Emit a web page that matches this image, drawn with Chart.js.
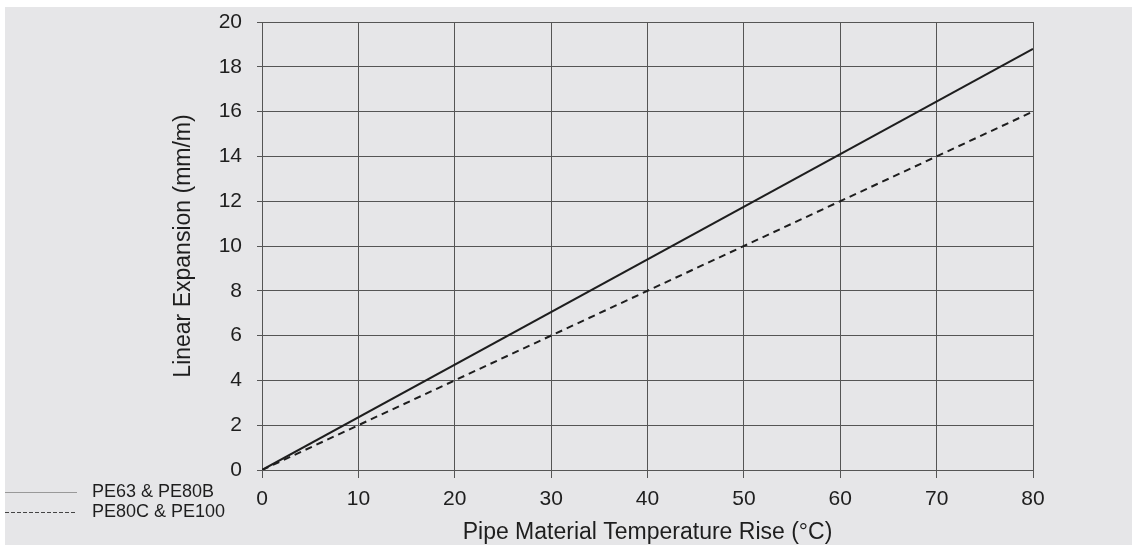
<!DOCTYPE html>
<html>
<head>
<meta charset="utf-8">
<script src="https://cdn.jsdelivr.net/npm/chart.js@4/dist/chart.umd.min.js"></script>
<style>
  html, body { margin: 0; padding: 0; background: #ffffff; }
  #wrap { width: 1132px; height: 547px; position: relative; }
</style>
</head>
<body>
<div id="wrap"><canvas id="chart"></canvas></div>
<script>
// data
const temperatureRise = [0, 80];
const pe63Expansion = [0, 18.8];
const pe100Expansion = [0, 16];
const seriesLabels = ["PE63 & PE80B", "PE80C & PE100"];
const xTicks = [0, 10, 20, 30, 40, 50, 60, 70, 80];
const yTicks = [0, 2, 4, 6, 8, 10, 12, 14, 16, 18, 20];

const font = "'Liberation Sans', Arial, sans-serif";
const ink = "#1e1e1e";

// grey panel with a thin white margin top and left
const panel = {
    id: "panel",
    beforeDraw(chart) {
        const ctx = chart.ctx;
        ctx.save();
        ctx.fillStyle = "#e6e6e8";
        ctx.fillRect(5, 7, chart.width - 5, chart.height - 9);
        ctx.restore();
    }
};

// legend sits in the bottom-left corner, outside the plot
const cornerLegend = {
    id: "cornerLegend",
    afterDraw(chart) {
        const ctx = chart.ctx;
        ctx.save();
        ctx.font = "18px " + font;
        ctx.fillStyle = ink;
        ctx.textBaseline = "middle";
        chart.data.datasets.forEach((ds, i) => {
            const y = 492 + i * 20;
            ctx.beginPath();
            ctx.lineWidth = 1;
            ctx.strokeStyle = i == 0 ? "#999" : "#444";
            ctx.setLineDash(i == 0 ? [] : [4, 2]);
            ctx.moveTo(5, y + 0.5);
            ctx.lineTo(77, y + 0.5);
            ctx.stroke();
            ctx.setLineDash([]);
            ctx.fillText(ds.label, 92, y);
        });
        ctx.restore();
    }
};

new Chart(document.getElementById("chart"), {
    type: "scatter",
    data: {
        datasets: [
            {
                label: seriesLabels[0],
                data: temperatureRise.map((t, i) => ({ x: t, y: pe63Expansion[i] })),
                showLine: true,
                borderColor: ink,
                borderWidth: 2,
                pointRadius: 0
            },
            {
                label: seriesLabels[1],
                data: temperatureRise.map((t, i) => ({ x: t, y: pe100Expansion[i] })),
                showLine: true,
                borderColor: ink,
                borderWidth: 2,
                borderDash: [7, 5],
                pointRadius: 0
            }
        ]
    },
    options: {
        responsive: true,
        maintainAspectRatio: false,
        animation: false,
        layout: { padding: { top: 22, right: 99, left: 170, bottom: 0 } },
        plugins: { legend: { display: false }, tooltip: { enabled: false } },
        scales: {
            x: {
                type: "linear",
                min: 0,
                max: 80,
                afterBuildTicks: s => { s.ticks = xTicks.map(v => ({ value: v })); },
                afterFit: s => { s.height = 77; },
                grid: { color: "#555", lineWidth: 1, tickLength: 8 },
                border: { color: "#555", width: 1 },
                ticks: { color: ink, font: { family: font, size: 21 }, padding: 9 },
                title: {
                    display: true,
                    text: "Pipe Material Temperature Rise (°C)",
                    color: ink,
                    font: { family: font, size: 23 },
                    padding: { top: 0, bottom: 1 }
                }
            },
            y: {
                min: 0,
                max: 20,
                afterBuildTicks: s => { s.ticks = yTicks.map(v => ({ value: v })); },
                afterFit: s => { s.width = 92; s.paddingTop = 0; s.paddingBottom = 0; },
                grid: { color: "#555", lineWidth: 1, tickLength: 5 },
                border: { color: "#555", width: 1 },
                ticks: { color: ink, font: { family: font, size: 21 }, padding: 15 },
                title: {
                    display: true,
                    text: "Linear Expansion (mm/m)",
                    color: ink,
                    font: { family: font, size: 23 },
                    padding: { top: 0, bottom: 0 }
                }
            }
        }
    },
    plugins: [panel, cornerLegend]
});
</script>
</body>
</html>
